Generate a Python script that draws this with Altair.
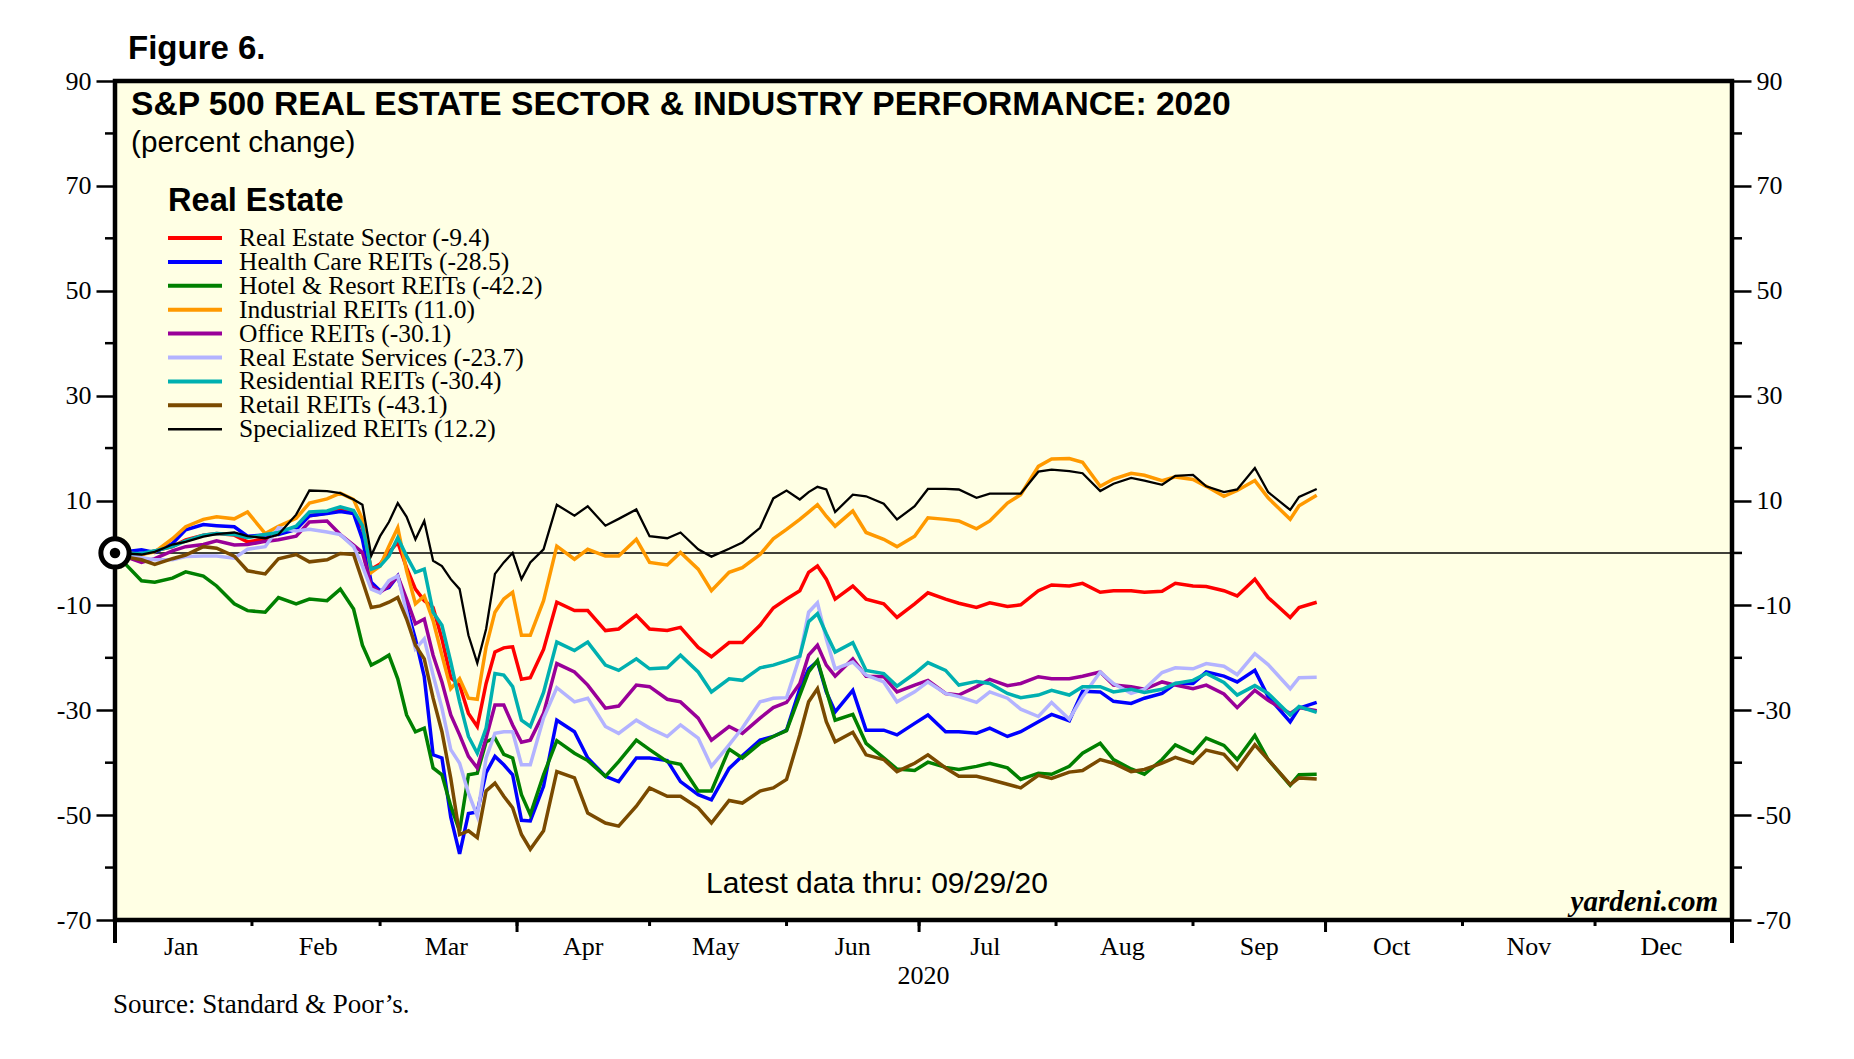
import altair as alt
import pandas as pd

# ---------------- data (percent change since 2019 year-end) ----------------
day_offsets = [0, 2, 6, 9, 13, 16, 20, 23, 27, 30, 34, 37, 41, 44, 48, 51, 54, 56, 58, 60, 62, 64, 66, 68,
               70, 72, 74, 76, 78, 80, 82, 84, 86, 88, 90, 92, 94, 97, 100, 104, 107, 111, 114, 118, 121, 125, 128, 132, 135,
               139,
               142, 146, 149, 152, 155, 157, 159, 161, 163, 167, 170, 174, 177, 181, 184, 188, 191, 195, 198, 202, 205,
               209,
               212, 216, 219, 223, 226, 230, 233, 237, 240, 244, 247, 251, 254, 258, 261, 266, 268, 272]

real_estate_sector = [0, -0.1, -0.3, 0.4, 1.2, 2.5, 3.4, 3.7, 3.4, 2.1, 2.7, 3.7, 4.6, 7.1, 7.6, 8.2, 7.6, 4.8, -3.1, -2.1, 0.1, 2.0, -2.8, -6.9,
                      -9.1, -10.4, -16.4, -23.8, -25.2, -30.6, -33.1, -24.9, -18.9, -18.1, -17.9, -24.1, -23.8, -18.4, -9.4, -11.0, -11.0, -14.8, -14.5, -11.9, -14.5, -14.8, -14.2, -18.0, -19.8,
                      -17.1,
                      -17.1, -13.8, -10.5, -8.8, -7.2, -3.7, -2.5, -5.0, -8.8, -6.3, -8.8, -9.7, -12.3, -9.7, -7.6, -8.8, -9.6, -10.4, -9.5, -10.2, -9.9,
                      -7.2,
                      -6.1, -6.3, -5.8, -7.5, -7.2, -7.2, -7.5, -7.3, -5.8, -6.3, -6.4, -7.2, -8.2, -5.0, -8.5, -12.3, -10.4, -9.4]

health_care = [0, 0.2, 0.6, 0.1, 1.8, 4.4, 5.4, 5.2, 5.0, 3.2, 3.4, 3.5, 4.5, 7.1, 7.5, 7.9, 7.5, 2.6, -5.6, -7.2, -6.6, -4.4, -10.4, -16.4,
               -23.6, -38.5, -39.1, -50.4, -57.4, -49.7, -49.4, -41.9, -38.8, -40.4, -42.3, -51.0, -51.1, -44.5, -31.9, -34.1, -39.1, -42.6, -43.6, -39.1, -39.1, -39.6, -43.6, -46.1, -47.1,
               -41.1,
               -38.7, -35.7, -35.0, -33.8, -25.9, -22.1, -20.7, -26.5, -30.3, -26.2, -33.8, -33.8, -34.7, -32.5, -30.9, -34.1, -34.1, -34.4, -33.4, -35.0, -34.1,
               -32.2,
               -30.8, -32.0, -26.4, -26.5, -28.3, -28.7, -27.7, -26.8, -24.9, -24.9, -22.7, -23.5, -24.6, -22.4, -27.4, -32.2, -29.6, -28.5]

hotel_resort = [0, -1.8, -5.3, -5.6, -4.8, -3.6, -4.4, -6.3, -9.7, -11.0, -11.3, -8.5, -9.7, -8.8, -9.1, -6.9, -10.7, -17.6, -21.4, -20.5, -19.5, -24.0, -30.9, -34.1,
                -33.4, -41.0, -42.3, -48.3, -53.0, -42.3, -42.0, -36.0, -35.3, -38.4, -39.1, -46.1, -49.9, -42.3, -35.8, -38.2, -39.6, -42.6, -39.8, -35.7, -37.5, -39.8, -40.3, -45.4, -45.4,
                -37.4,
                -39.1, -36.3, -35.0, -33.9, -27.1, -22.7, -20.5, -26.2, -31.9, -30.8, -36.3, -39.1, -41.2, -41.5, -39.9, -40.9, -41.3, -40.7, -40.1, -41.0, -43.2,
                -42.0,
                -42.2, -40.7, -38.2, -36.3, -39.4, -41.2, -42.2, -39.4, -36.6, -38.2, -35.3, -36.7, -39.4, -34.8, -39.4, -44.3, -42.3, -42.2]

industrial = [0, 0.1, -0.3, 0.2, 2.7, 5.0, 6.4, 6.9, 6.5, 7.8, 3.7, 5.1, 6.6, 9.5, 10.3, 11.4, 10.2, 6.4, -3.7, -2.5, 1.3, 4.8, -3.4, -9.7,
              -8.2, -12.9, -19.5, -25.9, -24.0, -27.7, -27.9, -17.9, -11.3, -8.8, -7.5, -15.7, -15.7, -9.1, 1.3, -1.2, 0.7, -0.6, -0.6, 2.6, -1.8, -2.3, 0.1, -3.1, -7.2,
              -3.7,
              -2.8, -0.3, 2.7, 4.5, 6.4, 7.8, 9.2, 7.0, 5.1, 8.0, 3.9, 2.6, 1.2, 3.2, 6.7, 6.4, 6.1, 4.6, 6.1, 9.5, 11.1,
              16.5,
              17.9, 18.0, 17.3, 12.7, 14.1, 15.2, 14.8, 13.8, 14.5, 14.0, 12.7, 10.8, 11.9, 13.8, 10.5, 6.4, 9.0, 11.0]

office = [0, -0.6, -1.8, -1.1, 0.4, 1.2, 1.6, 2.3, 1.5, 1.6, 2.2, 2.5, 3.2, 5.9, 6.1, 3.5, 1.5, 0.1, -6.3, -7.5, -6.3, -4.4, -8.8, -13.5,
          -12.6, -19.5, -24.6, -30.9, -34.7, -38.8, -41.0, -35.3, -29.0, -29.0, -32.8, -36.1, -35.7, -30.6, -21.1, -22.7, -25.2, -29.6, -29.2, -25.2, -25.5, -27.9, -28.4, -31.5, -35.7,
          -33.1,
          -34.4, -31.5, -29.5, -28.5, -24.9, -19.5, -17.6, -21.4, -23.5, -20.2, -23.5, -23.6, -26.5, -25.2, -24.3, -26.8, -27.1, -25.5, -24.1, -25.3, -24.9,
          -23.6,
          -24.0, -24.0, -23.5, -22.7, -25.2, -25.5, -26.0, -24.6, -25.2, -25.9, -25.2, -26.9, -29.5, -26.2, -28.1, -30.6, -29.5, -30.1]

re_services = [0, -0.4, -0.9, -1.3, -1.3, -0.7, -0.6, -0.6, -1.0, 0.7, 1.2, 4.8, 4.2, 4.5, 4.0, 3.5, 1.2, -2.5, -6.9, -7.6, -5.3, -4.4, -11.3, -18.3,
               -16.4, -23.3, -29.6, -37.5, -40.1, -45.8, -50.2, -39.1, -34.4, -34.1, -34.1, -40.4, -40.4, -31.5, -25.7, -28.4, -27.7, -33.1, -34.4, -31.9, -33.4, -35.0, -32.8, -35.3, -40.7,
               -36.6,
               -33.4, -28.4, -27.7, -27.6, -19.7, -11.3, -9.5, -16.4, -22.1, -20.8, -23.3, -24.6, -28.4, -26.5, -24.6, -26.8, -27.4, -28.5, -26.5, -27.7, -29.8,
               -31.2,
               -28.5, -31.7, -27.4, -22.7, -24.9, -26.8, -26.0, -22.8, -21.9, -22.1, -21.1, -21.6, -23.2, -19.2, -21.3, -25.9, -23.8, -23.7]

residential = [0, -0.1, -0.1, 0.4, 1.2, 2.3, 3.4, 3.7, 3.5, 2.9, 3.5, 3.9, 5.1, 7.8, 8.0, 8.8, 8.1, 5.2, -3.1, -2.5, -0.6, 2.9, -0.6, -3.7,
               -3.1, -11.3, -13.8, -20.8, -28.4, -35.0, -38.2, -33.4, -23.0, -23.3, -25.5, -31.9, -33.1, -26.6, -17.0, -18.6, -17.0, -21.4, -22.4, -20.2, -22.1, -21.9, -19.5, -22.7, -26.5,
               -24.0,
               -24.3, -21.9, -21.4, -20.6, -19.7, -13.1, -11.6, -15.4, -18.9, -17.1, -22.4, -23.0, -25.4, -23.0, -20.9, -22.4, -25.2, -24.5, -24.9, -26.8, -27.6,
               -27.1,
               -26.2, -27.1, -25.5, -25.5, -26.5, -26.0, -26.6, -26.0, -24.9, -24.3, -23.0, -24.7, -27.1, -25.3, -26.8, -30.9, -29.3, -30.4]

retail = [0, -0.7, -1.3, -2.2, -1.1, -0.4, 1.2, 0.9, -0.6, -3.4, -4.0, -1.1, -0.3, -1.7, -1.3, -0.1, -0.3, -5.3, -10.4, -10.1, -9.4, -8.5, -12.6, -17.6,
          -20.2, -27.7, -34.1, -43.0, -53.7, -53.0, -54.3, -45.4, -43.9, -46.4, -48.6, -53.7, -56.5, -53.0, -41.7, -42.9, -49.6, -51.5, -52.1, -48.3, -44.8, -46.4, -46.4, -48.6, -51.5,
          -47.2,
          -47.7, -45.4, -44.8, -43.2, -34.7, -28.4, -25.9, -32.2, -36.0, -34.2, -38.5, -39.4, -41.7, -40.1, -38.5, -41.0, -42.6, -42.6, -43.2, -44.1, -44.8,
          -42.4,
          -43.0, -41.8, -41.5, -39.4, -40.1, -41.7, -41.3, -40.1, -39.0, -40.1, -37.6, -38.4, -41.2, -36.6, -39.4, -44.2, -42.9, -43.1]

specialized = [0, -0.1, -0.3, 0.2, 1.6, 2.1, 3.1, 3.6, 3.9, 3.2, 2.8, 3.5, 7.3, 11.9, 11.8, 11.4, 10.2, 9.2, -0.5, 3.2, 5.9, 9.5, 6.9, 2.6,
               6.1, -1.5, -2.5, -5.0, -6.9, -15.7, -21.0, -14.5, -4.0, -1.8, 0.0, -5.0, -1.8, 0.7, 9.2, 7.1, 8.9, 5.2, 6.5, 8.3, 3.2, 2.8, 3.9, 0.7, -0.7,
               0.8,
               2.0, 4.8, 10.4, 11.9, 10.2, 11.6, 12.6, 12.1, 7.8, 11.1, 10.8, 9.4, 6.4, 8.9, 12.2, 12.2, 12.1, 10.5, 11.3, 11.3, 11.3,
               15.5,
               15.9, 15.6, 15.2, 11.8, 13.2, 14.3, 13.8, 13.0, 14.7, 14.9, 12.7, 11.6, 12.1, 16.2, 11.6, 8.2, 10.7, 12.2]

series_names = ["Real Estate Sector (-9.4)", "Health Care REITs (-28.5)", "Hotel & Resort REITs (-42.2)",
                "Industrial REITs (11.0)", "Office REITs (-30.1)", "Real Estate Services (-23.7)",
                "Residential REITs (-30.4)", "Retail REITs (-43.1)", "Specialized REITs (12.2)"]
series_values = [real_estate_sector, health_care, hotel_resort, industrial, office,
                 re_services, residential, retail, specialized]
series_colors = ["#FF0000", "#0000FF", "#008000", "#FF9900", "#990099",
                 "#B3B3FF", "#00B0B0", "#7A4A00", "#000000"]

month_labels = ["Jan", "Feb", "Mar", "Apr", "May", "Jun", "Jul", "Aug", "Sep", "Oct", "Nov", "Dec"]
month_starts = ["2020-%02d-01" % m for m in range(1, 13)] + ["2021-01-01"]
month_mids = ["2020-%02d-16" % m for m in range(1, 13)]
quarter_starts = ["2020-04-01", "2020-07-01", "2020-10-01"]
year_edges = ["2020-01-01", "2021-01-01"]
major_y = [-70, -50, -30, -10, 10, 30, 50, 70, 90]
minor_y = [-60, -40, -20, 0, 20, 40, 60, 80]

# ---------------- layout ----------------
W, H = 1617, 839
SERIF = "Liberation Serif"
SANS = "Liberation Sans"

base = pd.Timestamp("2020-01-01")
dates = [(base + pd.Timedelta(days=d)).strftime("%Y-%m-%d") for d in day_offsets]

x_scale = alt.Scale(type="utc", domain=[alt.DateTime(year=2020, month=1, date=1, utc=True),
                                         alt.DateTime(year=2021, month=1, date=1, utc=True)])
y_scale = alt.Scale(domain=[-70, 90], nice=False, zero=False)


def y_axis(orient):
    return alt.Axis(orient=orient, values=major_y, tickSize=19, tickWidth=2.5, tickColor="black",
                    domain=False, grid=False, labelFont=SERIF, labelFontSize=26, labelColor="black",
                    labelPadding=5, labelExpr="'' + datum.value", title=None)


layers = []

# zero line (carries left axis)
layers.append(alt.Chart(pd.DataFrame({"v": [0]})).mark_rule(color="black", strokeWidth=1.4).encode(
    y=alt.Y("v:Q", scale=y_scale, axis=y_axis("left"))))

# minor y ticks (right one carries right axis)
minor_df = pd.DataFrame({"v": minor_y})
layers.append(alt.Chart(minor_df).mark_rule(color="black", strokeWidth=2.5).encode(
    y=alt.Y("v:Q", scale=y_scale, axis=y_axis("right")), x=alt.value(W), x2=alt.value(W + 10)))
layers.append(alt.Chart(minor_df).mark_rule(color="black", strokeWidth=2.5).encode(
    y=alt.Y("v:Q", scale=y_scale, axis=None), x=alt.value(-10), x2=alt.value(0)))

# series lines
for name, vals, col in zip(series_names, series_values, series_colors):
    df = pd.DataFrame({"date": dates, "value": vals})
    sw = 2.3 if col == "#000000" else 3.5
    layers.append(alt.Chart(df).mark_line(color=col, strokeWidth=sw).encode(
        x=alt.X("date:T", scale=x_scale, axis=None),
        y=alt.Y("value:Q", scale=y_scale, axis=None)))


# x ticks
def xticks(vals, length, width=3):
    return alt.Chart(pd.DataFrame({"d": vals})).mark_rule(color="black", strokeWidth=width).encode(
        x=alt.X("d:T", scale=x_scale, axis=None), y=alt.value(H), y2=alt.value(H + length))


layers.append(xticks(month_starts, 6))
layers.append(xticks(quarter_starts, 12))
layers.append(xticks(year_edges, 23, 4))

# month labels
layers.append(alt.Chart(pd.DataFrame({"d": month_mids, "t": month_labels})).mark_text(
    font=SERIF, fontSize=26, color="black", baseline="middle", align="center").encode(
    x=alt.X("d:T", scale=x_scale, axis=None), y=alt.value(H + 27), text="t:N"))

# base marker (bullseye)
start_df = pd.DataFrame({"date": [dates[0]], "value": [0]})
layers.append(alt.Chart(start_df).mark_point(shape="circle", filled=True, fill="white", stroke="black",
                                             strokeWidth=5, size=800, opacity=1).encode(
    x=alt.X("date:T", scale=x_scale, axis=None), y=alt.Y("value:Q", scale=y_scale, axis=None)))
layers.append(alt.Chart(start_df).mark_point(shape="circle", filled=True, color="black", size=110, opacity=1).encode(
    x=alt.X("date:T", scale=x_scale, axis=None), y=alt.Y("value:Q", scale=y_scale, axis=None)))


def label(text, x, y, size, font=SANS, weight="normal", style="normal", align="left"):
    return alt.Chart(pd.DataFrame({"t": [text]})).mark_text(
        font=font, fontSize=size, fontWeight=weight, fontStyle=style, align=align,
        baseline="middle", color="black").encode(text="t:N", x=alt.value(x), y=alt.value(y))


layers.append(label("Figure 6.", 13, -32, 33, weight="bold"))
layers.append(label("S&P 500 REAL ESTATE SECTOR & INDUSTRY PERFORMANCE: 2020", 16, 24, 33.6, weight="bold"))
layers.append(label("(percent change)", 16, 62, 29.7))
layers.append(label("Real Estate", 53, 120, 32.6, weight="bold"))

# custom legend
for i, (name, col) in enumerate(zip(series_names, series_colors)):
    yy = 157 + 23.9 * i
    layers.append(alt.Chart(pd.DataFrame({"k": [name]})).mark_rule(
        color=col, strokeWidth=2.5 if col == "#000000" else 4).encode(
        x=alt.value(53), x2=alt.value(107), y=alt.value(yy)))
    layers.append(label(name, 124, yy, 25.5, font=SERIF))

layers.append(label("Latest data thru: 09/29/20", 762, 803, 30, align="center"))
layers.append(label("yardeni.com", W - 14, 821, 29, font=SERIF, weight="bold", style="italic", align="right"))
layers.append(label("2020", W / 2, 895, 26, font=SERIF, align="center"))
layers.append(label("Source: Standard & Poor\u2019s.", -2, 924, 27, font=SERIF))

chart = alt.layer(*layers).resolve_axis(y="independent").properties(
    width=W, height=H,
    padding={"left": 107, "top": 73, "right": 100, "bottom": 110},
    autosize=alt.AutoSizeParams(type="none"),
    background="white",
).configure_view(fill="#FFFFE4", stroke="black", strokeWidth=4.5)

chart.save("out.html", embed_options={"renderer": "svg", "actions": False})
